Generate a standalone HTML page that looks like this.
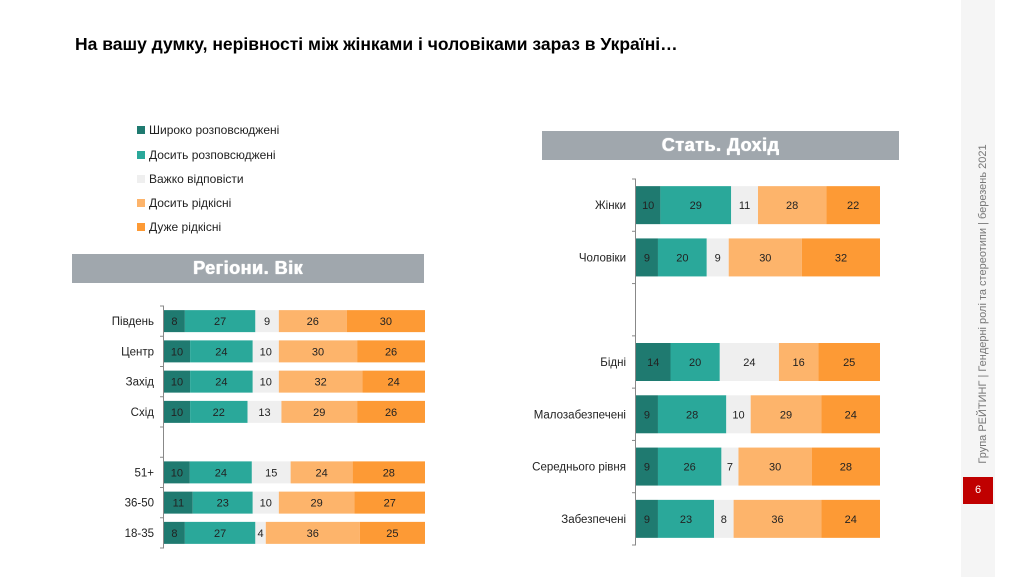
<!DOCTYPE html>
<html><head><meta charset="utf-8">
<style>
body{margin:0;width:1024px;height:577px;background:#fff;position:relative;overflow:hidden;font-family:"Liberation Sans",sans-serif;}
.abs{position:absolute;}
.title{left:75px;top:34px;font-size:17.5px;font-weight:bold;color:#000;white-space:nowrap;}
.leg{left:137px;font-size:12px;color:#222;white-space:nowrap;}
.leg span{display:inline-block;width:8px;height:8px;margin-right:4px;vertical-align:0px;}
.hdr{background:#a0a7ad;color:#fff;font-weight:900;font-size:18px;text-align:center;letter-spacing:0.5px;text-shadow:0 0 1px #fff,0.5px 0 0 #fff;}
.side{left:961px;top:0;width:34px;height:577px;background:#f5f5f5;}
.sidetxt{left:983px;top:304px;transform:translate(-50%,-50%) rotate(-90deg);font-size:11px;color:#777;white-space:nowrap;}
.pg{left:963px;top:477px;width:30px;height:27px;background:#c00000;color:#fff;font-size:11px;text-align:center;line-height:27px;}
</style></head><body>
<div class="abs title">На вашу думку, нерівності між жінками і чоловіками зараз в Україні…</div>
<div class="abs leg" style="top:123px"><span style="background:#1f7a70"></span>Широко розповсюджені</div>
<div class="abs leg" style="top:148px"><span style="background:#2aa89a"></span>Досить розповсюджені</div>
<div class="abs leg" style="top:172px"><span style="background:#efefef"></span>Важко відповісти</div>
<div class="abs leg" style="top:196px"><span style="background:#fdb46b"></span>Досить рідкісні</div>
<div class="abs leg" style="top:220px"><span style="background:#fd9a35"></span>Дуже рідкісні</div>
<div class="abs hdr" style="left:72px;top:254px;width:352px;height:29px;line-height:29px">Регіони. Вік</div>
<div class="abs hdr" style="left:542px;top:131px;width:357px;height:29px;line-height:29px">Стать. Дохід</div>
<div class="abs side"></div>
<div class="abs sidetxt">Група РЕЙТИНГ | Гендерні ролі та стереотипи | березень 2021</div>
<div class="abs pg">6</div>
<svg class="abs" style="left:0;top:0" width="1024" height="577" id="svg"></svg>
<script>
const colors=["#1f7a70","#2aa89a","#efefef","#fdb46b","#fd9a35"];
const leftCats=["Південь","Центр","Захід","Схід","","51+","36-50","18-35"];
const leftWide=[8,10,10,10,null,10,11,8];
const leftFair=[27,24,24,22,null,24,23,27];
const leftHard=[9,10,10,13,null,15,10,4];
const leftRare=[26,30,32,29,null,24,29,36];
const leftVeryRare=[30,26,24,26,null,28,27,25];
const rightCats=["Жінки","Чоловіки","","Бідні","Малозабезпечені","Середнього рівня","Забезпечені"];
const rightWide=[10,9,null,14,9,9,9];
const rightFair=[29,20,null,20,28,26,23];
const rightHard=[11,9,null,24,10,7,8];
const rightRare=[28,30,null,16,29,30,36];
const rightVeryRare=[22,32,null,25,24,28,24];
const NS="http://www.w3.org/2000/svg";
const svg=document.getElementById('svg');
function mk(t,a){const e=document.createElementNS(NS,t);for(const k in a)e.setAttribute(k,a[k]);svg.appendChild(e);return e;}
function chart(cats,series,x0,x1,yTop,yBot,barH,nm){
  const n=cats.length,step=(yBot-yTop)/n;
  const ax=mk('line',{x1:x0-0.5,x2:x0-0.5,y1:yTop,y2:yBot,stroke:'#888','stroke-width':1});
  
  
  for(let i=0;i<=n;i++){const t=mk('line',{x1:x0-4,x2:x0,y1:yTop+i*step,y2:yTop+i*step,stroke:'#888'});
    
    }
  cats.forEach((c,i)=>{
    const cy=yTop+(i+0.5)*step;
    if(c){const l=mk('text',{x:x0-10,y:cy+4,'text-anchor':'end','font-size':11.5,fill:'#222','font-family':'Liberation Sans, sans-serif'});l.textContent=c;
      
      }
    if(series[0][i]==null)return;
    const tot=series.reduce((s,a)=>s+a[i],0);
    let x=x0;
    series.forEach((a,k)=>{
      const w=a[i]/tot*(x1-x0);
      const r=mk('rect',{x:x,y:cy-barH/2,width:w,height:barH,fill:colors[k]});
      
      
      const t=mk('text',{x:x+w/2,y:cy+4,'text-anchor':'middle','font-size':11,fill:'#222','font-family':'Liberation Sans, sans-serif'});t.textContent=a[i];
      
      
      x+=w;
    });
  });
}
chart(leftCats,[leftWide,leftFair,leftHard,leftRare,leftVeryRare],164,425,306,548,22,'left-chart');
chart(rightCats,[rightWide,rightFair,rightHard,rightRare,rightVeryRare],636,880,179,545,38,'right-chart');
</script>
</body></html>
